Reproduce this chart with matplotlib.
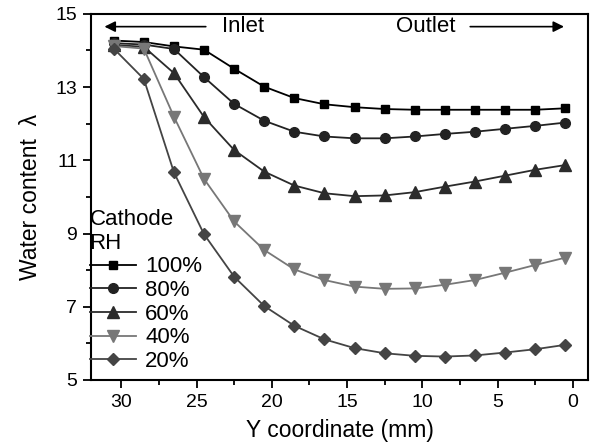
import matplotlib
matplotlib.use("Agg")
import matplotlib.pyplot as plt
from matplotlib.ticker import MultipleLocator

plt.rcParams["font.family"] = ["Liberation Sans", "DejaVu Sans"]

# Y coordinate of each sample (mm)
y_coord = [30.5, 28.5, 26.5, 24.5, 22.5, 20.5, 18.5, 16.5,
           14.5, 12.5, 10.5, 8.5, 6.5, 4.5, 2.5, 0.5]

# Water content for each cathode RH
rh_100 = [14.27, 14.23, 14.11, 14.02, 13.50, 13.01, 12.70, 12.53,
          12.45, 12.40, 12.38, 12.38, 12.38, 12.38, 12.38, 12.42]
rh_80 = [14.20, 14.16, 14.04, 13.27, 12.54, 12.08, 11.78, 11.65,
         11.60, 11.60, 11.65, 11.72, 11.78, 11.86, 11.94, 12.03]
rh_60 = [14.15, 14.10, 13.38, 12.18, 11.28, 10.69, 10.31, 10.10,
         10.02, 10.04, 10.13, 10.28, 10.42, 10.58, 10.74, 10.87]
rh_40 = [14.12, 14.05, 12.19, 10.49, 9.33, 8.55, 8.02, 7.73,
         7.55, 7.49, 7.50, 7.60, 7.73, 7.93, 8.14, 8.34]
rh_20 = [14.05, 13.22, 10.67, 8.98, 7.82, 7.02, 6.48, 6.11,
         5.87, 5.73, 5.66, 5.64, 5.67, 5.75, 5.84, 5.96]

labels = ["100%", "80%", "60%", "40%", "20%"]
series = [rh_100, rh_80, rh_60, rh_40, rh_20]
markers = ["s", "o", "^", "v", "D"]
colors = ["#000000", "#222222", "#2b2b2b", "#777777", "#444444"]
msizes = [6, 7, 8, 8, 6.5]

fig = plt.figure(figsize=(5.92, 4.46), dpi=100)
ax = fig.add_axes([0.154, 0.148, 0.839, 0.821])

for vals, lab, m, c, ms in zip(series, labels, markers, colors, msizes):
    ax.plot(y_coord, vals, marker=m, color=c, markersize=ms, linewidth=1.3, label=lab)

ax.set_xlim(32, -1)
ax.set_ylim(5, 15)
ax.xaxis.set_major_locator(MultipleLocator(5))
ax.xaxis.set_minor_locator(MultipleLocator(2.5))
ax.yaxis.set_minor_locator(MultipleLocator(1))
ax.set_yticks([5, 7, 9, 11, 13, 15])
ax.tick_params(which="major", direction="out", length=6, width=1.3, labelsize=14, pad=4)
ax.tick_params(which="minor", direction="out", length=3.5, width=1.3)
for s in ax.spines.values():
    s.set_linewidth(1.5)

ax.set_xlabel("Y coordinate (mm)", fontsize=16.5, labelpad=6)
ax.set_ylabel("Water content  λ", fontsize=16.5, labelpad=10)

# Inlet / outlet arrows
ax.annotate("", xy=(31.3, 14.65), xytext=(24.2, 14.65),
            arrowprops=dict(arrowstyle="-|>", color="black", lw=1.2, mutation_scale=16))
ax.text(21.9, 14.65, "Inlet", fontsize=16, ha="center", va="center")
ax.text(9.8, 14.65, "Outlet", fontsize=16, ha="center", va="center")
ax.annotate("", xy=(0.4, 14.65), xytext=(7.0, 14.65),
            arrowprops=dict(arrowstyle="-|>", color="black", lw=1.2, mutation_scale=16))

leg = ax.legend(title="Cathode\nRH", loc="lower left", bbox_to_anchor=(-0.03, -0.015),
                frameon=False, fontsize=16, title_fontsize=16, handlelength=2.1,
                handletextpad=0.4, labelspacing=0.12, borderaxespad=0.2)
leg._legend_box.align = "left"

fig.savefig("out.png", dpi=100)
